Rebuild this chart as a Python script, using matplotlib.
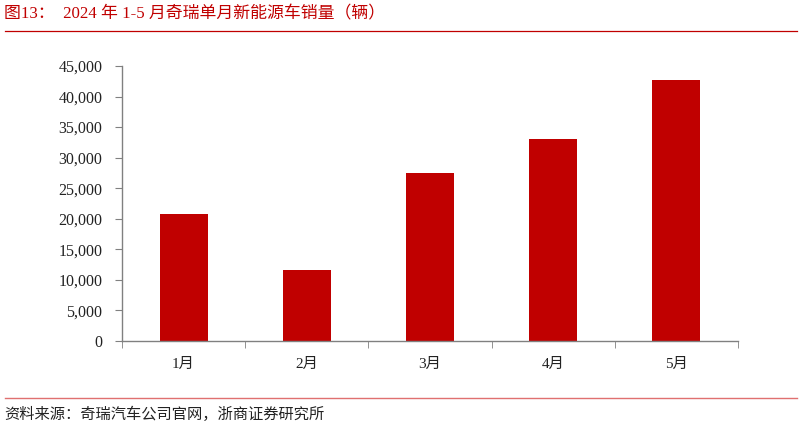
import matplotlib
matplotlib.use("Agg")
import matplotlib.pyplot as plt
from matplotlib.ticker import FuncFormatter, FixedLocator
from matplotlib.lines import Line2D

categories = ["1月", "2月", "3月", "4月", "5月"]
sales = [20800, 11600, 27500, 33000, 42700]
yticks = [0, 5000, 10000, 15000, 20000, 25000, 30000, 35000, 40000, 45000]

title = "图13：  2024 年 1-5 月奇瑞单月新能源车销量（辆）"
source = "资料来源：奇瑞汽车公司官网，浙商证券研究所"

fam = ["Liberation Serif", "Noto Sans CJK SC", "DejaVu Sans"]
plt.rcParams["font.family"] = fam

fig = plt.figure(figsize=(8.02, 4.29), dpi=100)
ax = fig.add_axes([122/802, 1-341/429, (738-122)/802, (341-66)/429])

x = list(range(len(categories)))
ax.bar(x, sales, width=0.39, color="#C00000", zorder=2)

ax.set_xlim(-0.5, len(categories) - 0.5)
ax.set_ylim(0, 45000)
ax.set_yticks(yticks)
ax.yaxis.set_major_formatter(FuncFormatter(lambda v, p: f"{int(v):,}"))
ax.set_xticks(x)
ax.set_xticklabels(categories)
ax.xaxis.set_minor_locator(FixedLocator([i - 0.5 for i in range(len(categories) + 1)]))

for s in ["top", "right"]:
    ax.spines[s].set_visible(False)
for s in ["left", "bottom"]:
    ax.spines[s].set_color("#808080")
    ax.spines[s].set_linewidth(1.0)

ax.tick_params(axis="y", direction="out", length=5, color="#808080", labelsize=11.5, pad=9, labelcolor="#222222")
ax.tick_params(axis="x", which="major", length=0, labelsize=11, pad=12, labelcolor="#222222")
ax.tick_params(axis="x", which="minor", direction="out", length=5, color="#808080")

fig.text(4/802, 1-14/429, title, color="#C00000", fontsize=12.2, va="center", ha="left", family=fam)
fig.add_artist(Line2D([5/802, 797/802], [1-31/429, 1-31/429], color="#C00000", lw=0.9, transform=fig.transFigure))
fig.add_artist(Line2D([5/802, 797/802], [1-398/429, 1-398/429], color="#E07070", lw=1.0, transform=fig.transFigure))
fig.text(4/802, 1-414/429, source, color="#222222", fontsize=11, va="center", ha="left", family=fam)

fig.savefig("out.png", dpi=100)
